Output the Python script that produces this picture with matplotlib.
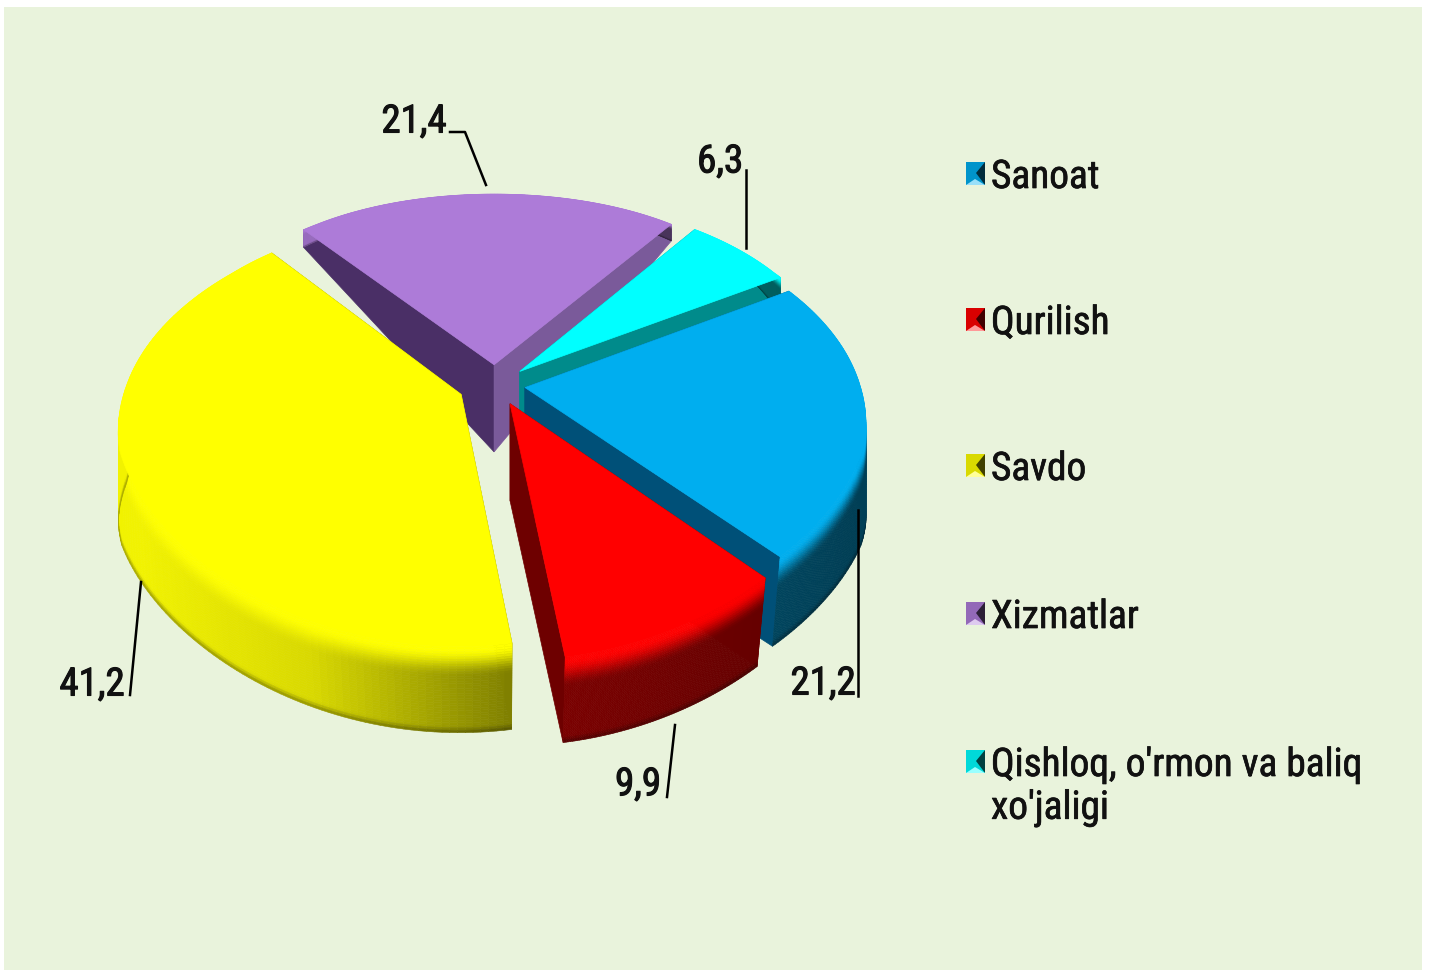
import numpy as np
import matplotlib
matplotlib.use("Agg")
import matplotlib.pyplot as plt
import matplotlib.patheffects as pe
from matplotlib.collections import PolyCollection
from matplotlib.patches import Polygon, Rectangle
from matplotlib.colors import to_rgb

categories = ["Sanoat", "Qurilish", "Savdo", "Xizmatlar", "Qishloq, o'rmon va baliq\nxo'jaligi"]
values = [21.2, 9.9, 41.2, 21.4, 6.3]
value_labels = ["21,2", "9,9", "41,2", "21,4", "6,3"]
colors = ["#00AEEF", "#FF0000", "#FFFF00", "#AD7BD8", "#00FFFF"]
face_start = ["#005078", "#6E0000", "#808000", "#4A2F66", "#008B8B"]
face_end = ["#005078", "#6E0000", "#808000", "#7A5A9A", "#008B8B"]
explode = [0.09, 0.1, 0.11, 0.1, 0.1]

# label positions and leader lines, pixels
label_pos = [(823, 684), (638, 785), (92, 685), (414, 122), (720, 162)]
leaders = [[(858, 510), (858, 696)], [(675, 725), (667, 797)], [(141, 582), (130, 695)],
           [(450, 132), (465, 132), (486, 185)], [(746, 170), (746, 248)]]
legend_y = [176, 322, 468, 616, 764]

START = 30.4
CX, CY = 495, 385
RX, RY, P = 335, 206, 0.17
draw_order = [3, 4, 0, 2, 1]


def project(u, v):
    s = np.interp(v, [-1.2, -0.8, -0.3, 0, 0.6, 0.9], [1.10, 1.09, 1.05, 1.0, 0.905, 0.88])
    return CX + RX * u * s, CY - RY * v / (1 + P * v)


def wall_height(v):
    return np.interp(v, [-1.2, 0, 0.7, 1.15], [84, 98, 22, 10])


def bottom(u, v):
    x, y = project(u, v)
    return CX + (x - CX) * np.interp(v, [-0.8, -0.2], [0.97, 1.0]), y + wall_height(v)


def smooth(f):
    f = np.clip(f, 0, 1)
    return f * f * (3 - 2 * f)


fig = plt.figure(figsize=(14.29, 9.72), dpi=100, facecolor="white")
ax = fig.add_axes([0, 0, 1, 1])
ax.set_xlim(0, 1429)
ax.set_ylim(972, 0)
ax.axis("off")
ax.add_patch(Rectangle((4, 7), 1418, 963, fc="#E9F3DC", ec="none"))

# slice angles, clockwise from START
ends = START - np.cumsum(values) / sum(values) * 360
starts = np.r_[START, ends[:-1]]

for i in draw_order:
    a = np.radians(np.linspace(starts[i], ends[i], 120))
    mid = np.radians((starts[i] + ends[i]) / 2)
    ou, ov = explode[i] * np.cos(mid), explode[i] * np.sin(mid)
    ru, rv = ou + np.cos(a), ov + np.sin(a)
    base = np.array(to_rgb(colors[i]))

    # flat faces from the tip out to the rim
    for k, col in ((0, face_start[i]), (-1, face_end[i])):
        pts = [project(ou, ov), project(ru[k], rv[k]), bottom(ru[k], rv[k]), bottom(ou, ov)]
        ax.add_patch(Polygon(pts, fc=col, ec=col, lw=0.5))

    # outer wall, shaded strips
    tops = np.array(project(ru, rv)).T
    bots = np.array(bottom(ru, rv)).T
    light = np.interp(ru, [-1, -0.5, 0.05, 1], [0.95, 0.85, 0.5, 0.36])
    bands = np.linspace(0, 1, 36)
    polys, cols = [], []
    for j in range(len(a) - 1):
        for t0, t1 in zip(bands[:-1], bands[1:]):
            polys.append([tops[j] + (bots[j] - tops[j]) * t0, tops[j + 1] + (bots[j + 1] - tops[j + 1]) * t0,
                          tops[j + 1] + (bots[j + 1] - tops[j + 1]) * t1, tops[j] + (bots[j] - tops[j]) * t1])
            f = smooth((t0 - 0.02) / 0.32)
            edge = 1 - 0.35 * smooth((t0 - 0.9) / 0.1)
            cols.append(base * (1 - f + f * light[j]) * edge)
    ax.add_collection(PolyCollection(polys, facecolors=cols, edgecolors=cols, linewidths=0.4))

    # top surface
    top = [project(ou, ov)] + list(tops)
    ax.add_patch(Polygon(top, fc=colors[i], ec=colors[i], lw=0.5))

for line in leaders:
    xs, ys = zip(*line)
    ax.plot(xs, ys, color="black", lw=1.8)

font = ["Roboto Condensed", "Archivo Narrow", "Liberation Sans"]
thick = [pe.withStroke(linewidth=0.8, foreground="#111111")]
for txt, (x, y) in zip(value_labels, label_pos):
    ax.text(x, y, txt, family=font, fontsize=28, ha="center", va="center", color="#111111", path_effects=thick)

# legend
for name, y, col in zip(categories, legend_y, colors):
    c = np.array(to_rgb(col))
    ax.add_patch(Rectangle((966, y - 14), 19, 23, fc=tuple(c * 0.85), ec="none"))
    ax.add_patch(Polygon([(985, y - 14), (985, y + 9), (976, y - 3)], fc=tuple(c * 0.25), ec="none"))
    ax.add_patch(Polygon([(966, y + 9), (985, y + 9), (975, y + 3)], fc=tuple(c * 0.4 + 0.6), ec="none"))
    ax.text(991, y - 17, name, family=font, fontsize=28.3, ha="left", va="top", color="#111111",
            linespacing=1.2, path_effects=[pe.withStroke(linewidth=0.5, foreground="#111111")])

fig.savefig("out.png", dpi=100, facecolor="white")
